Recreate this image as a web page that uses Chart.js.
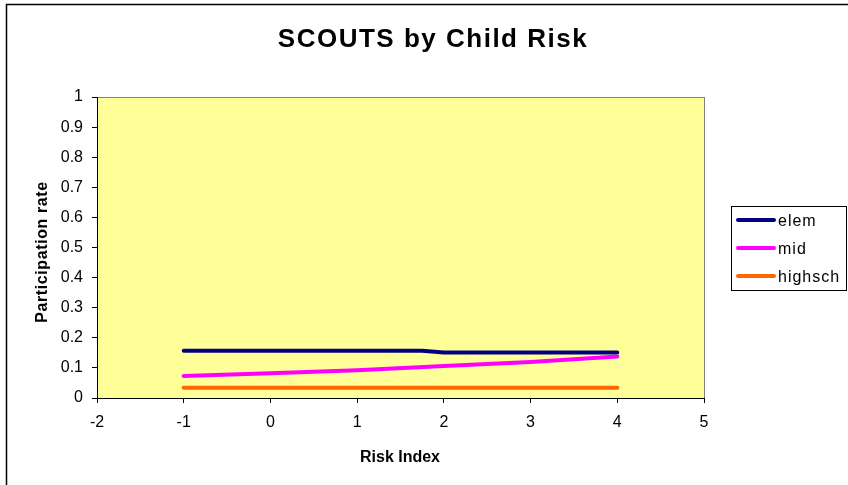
<!DOCTYPE html>
<html><head><meta charset="utf-8">
<script src="https://cdn.jsdelivr.net/npm/chart.js@4/dist/chart.umd.min.js"></script>
<style>html,body{margin:0;padding:0;background:#fff;}canvas{display:block;}</style>
</head><body>
<canvas id="c" width="848" height="485"></canvas>
<script>
const chartTitle = "SCOUTS by Child Risk";
const xTitle = "Risk Index";
const yTitle = "Participation rate";
const seriesNames = ["elem", "mid", "highsch"];
const seriesColors = ["#000080", "#FF00FF", "#FF6600"];
const elemX = [-1, 0, 1, 1.75, 2, 3, 4];
const elemY = [0.157, 0.157, 0.157, 0.157, 0.151, 0.151, 0.151];
const midX = [-1, 0, 1, 2, 3, 4];
const midY = [0.073, 0.082, 0.092, 0.106, 0.12, 0.138];
const highX = [-1, -0.5, 0, 1, 2, 3, 4];
const highY = [0.034, 0.034, 0.034, 0.034, 0.034, 0.034, 0.034];
const xMin = -2, xMax = 5, xStep = 1;
const yMin = 0, yMax = 1, yStep = 0.1;

const toPts = (xs, ys) => xs.map((x, i) => ({x: x, y: ys[i]}));
const seriesData = [toPts(elemX, elemY), toPts(midX, midY), toPts(highX, highY)];

const FONT = "Arial, 'Liberation Sans', sans-serif";
const L = 97, R = 704, T = 97, B = 398, W = 848, H = 485;

const decor = {
  id: 'decor',
  beforeDraw(chart) {
    const ctx = chart.ctx, a = chart.chartArea;
    ctx.save();
    ctx.fillStyle = '#fff';
    ctx.fillRect(0, 0, W, H);
    ctx.strokeStyle = '#000';
    ctx.lineWidth = 1.5;
    ctx.beginPath();
    ctx.moveTo(6.5, H + 5); ctx.lineTo(6.5, 4.5); ctx.lineTo(W + 5, 4.5);
    ctx.stroke();
    ctx.fillStyle = '#FFFF99';
    ctx.fillRect(a.left, a.top, a.right - a.left, a.bottom - a.top);
    ctx.strokeStyle = '#808080';
    ctx.lineWidth = 1;
    ctx.strokeRect(a.left + 0.5, a.top + 0.5, a.right - a.left, a.bottom - a.top);
    ctx.restore();
  },
  afterDraw(chart) {
    const ctx = chart.ctx, a = chart.chartArea;
    ctx.save();
    ctx.fillStyle = '#000';
    ctx.textAlign = 'center';
    ctx.textBaseline = 'alphabetic';
    ctx.font = "bold 26px " + FONT;
    ctx.letterSpacing = '1.5px';
    ctx.fillText(chartTitle, 433, 47);
    ctx.font = "bold 16px " + FONT;
    ctx.letterSpacing = '0px';
    ctx.fillText(xTitle, 400, 462);
    ctx.letterSpacing = '0.6px';
    ctx.translate(47, 252);
    ctx.rotate(-Math.PI / 2);
    ctx.fillText(yTitle, 0, 0);
    ctx.restore();
    // legend
    ctx.save();
    ctx.strokeStyle = '#000';
    ctx.lineWidth = 1;
    ctx.strokeRect(731.5, 206.5, 115, 84);
    ctx.font = "16px " + FONT;
    ctx.letterSpacing = '1px';
    ctx.textAlign = 'left';
    ctx.textBaseline = 'alphabetic';
    seriesNames.forEach((n, i) => {
      const y = 220 + i * 28;
      ctx.strokeStyle = seriesColors[i];
      ctx.lineWidth = 4;
      ctx.lineCap = 'round';
      ctx.beginPath(); ctx.moveTo(738, y); ctx.lineTo(774, y); ctx.stroke();
      ctx.fillStyle = '#000';
      ctx.fillText(n, 778, y + 5.5);
    });
    ctx.restore();
  }
};

new Chart(document.getElementById('c'), {
  type: 'scatter',
  data: {
    datasets: seriesNames.map((n, i) => ({
      label: n, data: seriesData[i], showLine: true,
      borderColor: seriesColors[i], backgroundColor: seriesColors[i],
      borderWidth: 4, pointRadius: 0, tension: 0,
      borderCapStyle: 'round', borderJoinStyle: 'round'
    }))
  },
  options: {
    responsive: false, animation: false, devicePixelRatio: 1,
    layout: {padding: {left: 0, top: T, right: W - R, bottom: 0}},
    plugins: {legend: {display: false}, title: {display: false}, tooltip: {enabled: false}},
    scales: {
      x: {
        type: 'linear', min: xMin, max: xMax,
        afterFit(s) { s.height = H - B; },
        ticks: {stepSize: xStep, color: '#000', font: {family: FONT, size: 16}, padding: 10},
        grid: {drawOnChartArea: false, drawTicks: true, tickLength: 5, color: '#000'},
        border: {display: true, color: '#000'}
      },
      y: {
        type: 'linear', min: yMin, max: yMax,
        afterFit(s) { s.width = L; },
        ticks: {stepSize: yStep, color: '#000', font: {family: FONT, size: 16}, padding: 9,
          callback: v => Math.round(v * 10) / 10 + ''},
        grid: {drawOnChartArea: false, drawTicks: true, tickLength: 5, color: '#000'},
        border: {display: true, color: '#000'}
      }
    }
  },
  plugins: [decor]
});
</script>
</body></html>
